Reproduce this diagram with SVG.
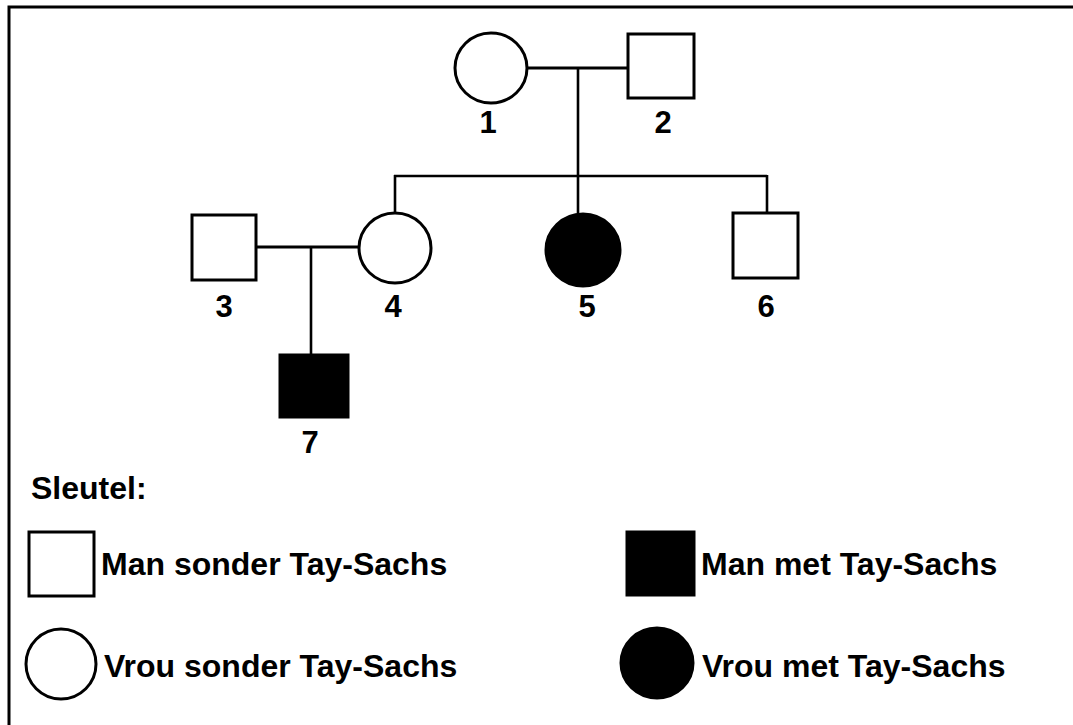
<svg xmlns="http://www.w3.org/2000/svg" width="1073" height="725" viewBox="0 0 1073 725">
<style>
.open{fill:#fff;stroke:#000;stroke-width:3}
.filled{fill:#000;stroke:#000;stroke-width:3}
.line{stroke:#000;stroke-width:3;fill:none}
.desc{stroke:#000;stroke-width:2.6;fill:none}
text{font-family:"Liberation Sans",Arial,sans-serif;font-weight:bold;font-size:32px;fill:#000}
.num{text-anchor:middle;font-size:31px}
</style>
<rect x="9" y="7" width="1100" height="760" fill="#fff" stroke="#000" stroke-width="3"/>
<g id="connectors">
<line class="line" x1="527" y1="68" x2="628" y2="68"/>
<line class="desc" x1="578" y1="68" x2="578" y2="176"/>
<line class="desc" x1="394" y1="176" x2="767" y2="176"/>
<line class="desc" x1="395" y1="175" x2="395" y2="213"/>
<line class="desc" x1="578" y1="175" x2="578" y2="214"/>
<line class="desc" x1="767" y1="175" x2="767" y2="213"/>
<line class="line" x1="256" y1="247" x2="359" y2="247"/>
<line class="desc" x1="311" y1="247" x2="311" y2="355"/>
</g>
<g id="node1"><ellipse class="open" cx="491" cy="68" rx="36" ry="35"/><text class="num" x="488" y="133">1</text></g>
<g id="node2"><rect class="open" x="628" y="34" width="66" height="64"/><text class="num" x="663" y="133">2</text></g>
<g id="node3"><rect class="open" x="192" y="215" width="64" height="65"/><text class="num" x="224" y="317">3</text></g>
<g id="node4"><ellipse class="open" cx="395" cy="248" rx="36" ry="35"/><text class="num" x="393" y="317">4</text></g>
<g id="node5"><ellipse class="filled" cx="583" cy="250" rx="37" ry="36"/><text class="num" x="587" y="317">5</text></g>
<g id="node6"><rect class="open" x="733" y="213" width="65" height="65"/><text class="num" x="766" y="317">6</text></g>
<g id="node7"><rect class="filled" x="280" y="355" width="68" height="62"/><text class="num" x="310" y="453">7</text></g>
<g id="legend">
<text x="31" y="499">Sleutel:</text>
<rect class="open" x="29" y="532" width="65" height="64"/>
<text x="101" y="575">Man sonder Tay-Sachs</text>
<rect class="filled" x="627" y="532" width="67" height="63"/>
<text x="701" y="575">Man met Tay-Sachs</text>
<ellipse class="open" cx="61" cy="664" rx="35" ry="35"/>
<text x="104" y="677">Vrou sonder Tay-Sachs</text>
<ellipse class="filled" cx="657" cy="663" rx="36" ry="35"/>
<text x="702" y="677">Vrou met Tay-Sachs</text>
</g>
</svg>
